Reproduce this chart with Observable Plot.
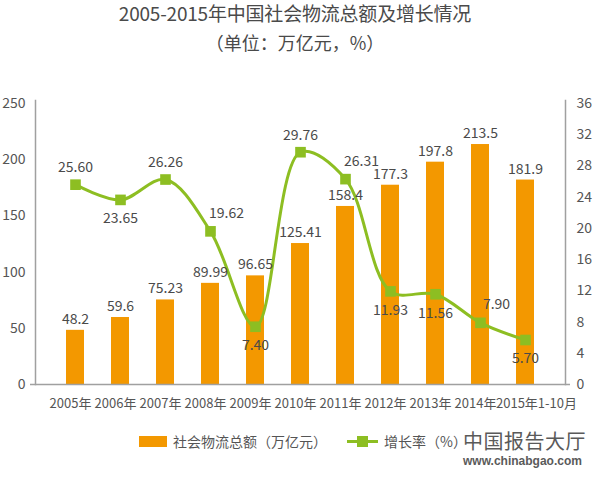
<!DOCTYPE html>
<html>
<head>
<meta charset="utf-8">
<script src="https://cdn.jsdelivr.net/npm/d3@7"></script>
<script src="https://cdn.jsdelivr.net/npm/@observablehq/plot@0.6"></script>
<style>
  html, body { margin: 0; padding: 0; background: #fff; }
  body { width: 600px; height: 487px; position: relative; overflow: hidden;
         font-family: "Noto Sans CJK SC", sans-serif; color: #555; }
  #title { height: 60px; text-align: center; padding-right: 10px; padding-top: 1px; box-sizing: border-box; }
  #title .t { font-size: 19px; line-height: 24px; color: #4a4a4a; letter-spacing: -0.2px; }
  #title .s { font-size: 18px; line-height: 24px; margin-top: 5px; color: #4a4a4a; }
  #chart svg { display: block; }
  #legend { position: absolute; top: 431px; left: 139px; height: 20px; display: flex; align-items: center;
            font-size: 14px; color: #555; }
  .sw-bar { width: 28px; height: 11px; background: #F39800; margin-right: 6px; }
  .sw-line { position: relative; width: 31px; height: 11px; margin-left: 20px; margin-right: 6px; }
  .sw-line .l { position: absolute; left: 0; right: 0; top: 4px; height: 3px; background: #8DBE22; }
  .sw-line .m { position: absolute; left: 10px; top: 0; width: 11px; height: 11px; background: #8DBE22; }
  #logo { position: absolute; left: 463px; top: 430px; color: #5a5a5a; }
  #logo .cn { font-size: 20px; line-height: 22px; letter-spacing: 0.5px; }
  #logo .en { font-size: 12px; line-height: 13px; margin-top: 3px; font-weight: bold; font-family: "Liberation Sans", sans-serif; }
</style>
</head>
<body>
<div id="title">
  <div class="t">2005-2015年中国社会物流总额及增长情况</div>
  <div class="s">（单位：万亿元，%）</div>
</div>
<div id="chart"></div>
<div id="legend">
  <div class="sw-bar"></div><span>社会物流总额（万亿元）</span>
  <div class="sw-line"><div class="l"></div><div class="m"></div></div><span>增长率（%）</span>
</div>
<div id="logo">
  <div class="cn">中国报告大厅</div>
  <div class="en">www.chinabgao.com</div>
</div>
<script>
// ---- data ----
const years = ["2005年", "2006年", "2007年", "2008年", "2009年", "2010年", "2011年", "2012年", "2013年", "2014年", "2015年1-10月"];
const totals = [48.2, 59.6, 75.23, 89.99, 96.65, 125.41, 158.4, 177.3, 197.8, 213.5, 181.9];
const totalLabels = ["48.2", "59.6", "75.23", "89.99", "96.65", "125.41", "158.4", "177.3", "197.8", "213.5", "181.9"];
const rates = [25.60, 23.65, 26.26, 19.62, 7.40, 29.76, 26.31, 11.93, 11.56, 7.90, 5.70];
const rateLabels = ["25.60", "23.65", "26.26", "19.62", "7.40", "29.76", "26.31", "11.93", "11.56", "7.90", "5.70"];
const leftTicks = [0, 50, 100, 150, 200, 250];
const rightTicks = [0, 4, 8, 12, 16, 20, 24, 28, 32, 36];
// label placement for the growth-rate labels (relative to marker)
const ratePlacement = ["above", "below", "above", "upright", "below", "above", "upright", "below", "below", "upright", "below"];

// ---- build ----
const leftMax = 250, rightMax = 36;
const k = leftMax / rightMax;
const rows = years.map((y, i) => ({
  year: y, total: totals[i], totalLabel: totalLabels[i],
  rate: rates[i], rateScaled: rates[i] * k, rateLabel: rateLabels[i], place: ratePlacement[i]
}));
const lastYear = years[years.length - 1];

const green = "#8DBE22", orange = "#F39800", axisGray = "#a0a0a0";

const chart = Plot.plot({
  width: 600,
  height: 370,
  marginTop: 40,
  marginBottom: 46,
  marginLeft: 35,
  marginRight: 35,
  insetTop: 3,
  style: { fontFamily: "'Noto Sans CJK SC', sans-serif", fontSize: "14px", color: "#555", background: "white" },
  x: { domain: years, padding: 0.6, label: null },
  y: { domain: [0, leftMax], label: null },
  marks: [
    Plot.barY(rows, { x: "year", y: "total", fill: orange }),
    Plot.frame({ anchor: "left", stroke: axisGray, strokeWidth: 1.5 }),
    Plot.frame({ anchor: "right", stroke: axisGray, strokeWidth: 1.5 }),
    Plot.ruleY([0], { stroke: axisGray, strokeWidth: 1.5, insetLeft: -5, insetRight: -5 }),
    Plot.axisY({ anchor: "left", ticks: leftTicks, tickSize: 0, tickPadding: 10, fontSize: 14, label: null }),
    Plot.axisY({ anchor: "right", ticks: rightTicks.map(v => v * k), tickFormat: v => String(Math.round(v / k)),
                 tickSize: 0, tickPadding: 11, fontSize: 14, label: null }),
    Plot.axisX({ ticks: years.slice(0, -1), tickSize: 0, tickPadding: 14, fontSize: 13, label: null, letterSpacing: -0.6, dx: -5 }),
    Plot.axisX({ ticks: [lastYear], tickSize: 0, tickPadding: 14, fontSize: 13, label: null, letterSpacing: -0.6, dx: 11 }),
    Plot.line(rows, { x: "year", y: "rateScaled", stroke: green, strokeWidth: 3, curve: "catmull-rom" }),
    Plot.dot(rows, { x: "year", y: "rateScaled", symbol: "square", r: 6, fill: green }),
    Plot.text(rows, { x: "year", y: "total", text: "totalLabel", dy: -11, fontSize: 14, fill: "#4a4a4a" }),
    Plot.text(rows.filter(d => d.place === "above"), { x: "year", y: "rateScaled", text: "rateLabel", dy: -17, fontSize: 14, fill: "#4a4a4a" }),
    Plot.text(rows.filter(d => d.place === "below"), { x: "year", y: "rateScaled", text: "rateLabel", dy: 19, fontSize: 14, fill: "#4a4a4a" }),
    Plot.text(rows.filter(d => d.place === "upright"), { x: "year", y: "rateScaled", text: "rateLabel", dx: 16, dy: -18, fontSize: 14, fill: "#4a4a4a" })
  ]
});
document.getElementById("chart").appendChild(chart);
</script>
</body>
</html>
